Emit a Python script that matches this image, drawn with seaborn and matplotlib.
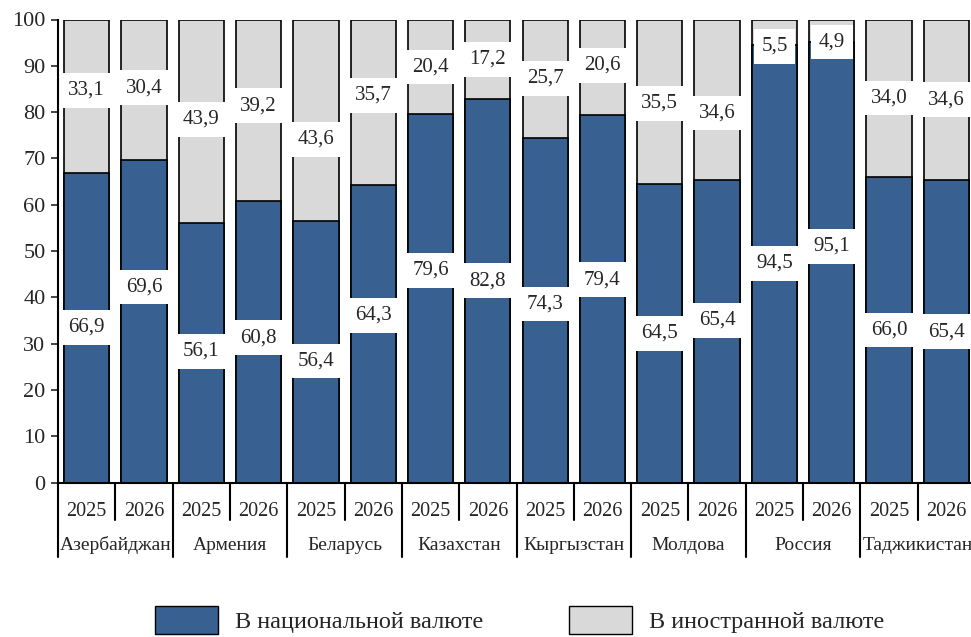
import matplotlib
matplotlib.use("Agg")
import numpy as np
import pandas as pd
import seaborn as sns
from matplotlib import pyplot as plt
from matplotlib.patches import Patch
from matplotlib.transforms import blended_transform_factory

# data
countries = ["Азербайджан", "Армения", "Беларусь", "Казахстан",
             "Кыргызстан", "Молдова", "Россия", "Таджикистан"]
years = ["2025", "2026"]
national = [66.9, 69.6, 56.1, 60.8, 56.4, 64.3, 79.6, 82.8,
            74.3, 79.4, 64.5, 65.4, 94.5, 95.1, 66.0, 65.4]
foreign = [33.1, 30.4, 43.9, 39.2, 43.6, 35.7, 20.4, 17.2,
           25.7, 20.6, 35.5, 34.6, 5.5, 4.9, 34.0, 34.6]
series_names = ["В национальной валюте", "В иностранной валюте"]

# where the value boxes sit (layout)
nat_label_y = [33.5, 42.2, 28.3, 31.3, 26.3, 36.1, 45.8, 43.6,
               38.6, 43.8, 32.2, 35.0, 47.3, 51.0, 33.0, 32.6]
for_label_y = [84.7, 85.3, 78.4, 81.4, 74.1, 83.6, 89.8, 91.4,
               87.3, 90.1, 81.9, 79.8, 94.2, 95.2, 83.0, 82.7]

BLUE = "#386192"
GRAY = "#D9D9D9"

sns.set_style("white")
plt.rcParams["font.family"] = ["Liberation Serif", "DejaVu Serif"]

df = pd.DataFrame({
    "key": [f"{c}|{y}" for c in countries for y in years],
    "national": national,
    "foreign": foreign,
})
df["total"] = df["national"] + df["foreign"]

fig = plt.figure(figsize=(9.71, 6.37), dpi=100)
ax = fig.add_axes([58 / 971, 154.5 / 637, 917 / 971, 463 / 637])

sns.barplot(data=df, x="key", y="total", color=GRAY, edgecolor="black",
            linewidth=1.2, width=0.79, saturation=1, ax=ax)
sns.barplot(data=df, x="key", y="national", color=BLUE, edgecolor="black",
            linewidth=1.2, width=0.79, saturation=1, ax=ax)

n = len(df)
ax.set_xlim(-0.5, n - 0.5)
ax.set_ylim(0, 100)
ax.set_yticks(np.arange(0, 101, 10))
ax.tick_params(axis="y", labelsize=16, length=5, width=1.2, direction="out",
               left=True, pad=4)
ax.set_xticks(range(n))
ax.set_xticklabels([y for c in countries for y in years], fontsize=14.5)
ax.tick_params(axis="x", length=0, pad=14)
ax.set_xlabel("")
ax.set_ylabel("")
sns.despine(ax=ax, top=True, right=True)
for s in ("left", "bottom"):
    ax.spines[s].set_linewidth(1.5)
    ax.spines[s].set_color("black")

box = dict(facecolor="white", edgecolor="none", pad=5.5)
for i in range(n):
    ax.text(i, nat_label_y[i], f"{national[i]:.1f}".replace(".", ","),
            ha="center", va="center", fontsize=15, bbox=box, zorder=5)
    ax.text(i, for_label_y[i], f"{foreign[i]:.1f}".replace(".", ","),
            ha="center", va="center", fontsize=15, bbox=box, zorder=5)

# category separators under the axis
trans = blended_transform_factory(ax.transData, ax.transAxes)
for k in range(n + 1):
    bottom = -0.16 if k % 2 == 0 else -0.08
    ax.plot([k - 0.5, k - 0.5], [0, bottom], color="black", lw=1.5,
            transform=trans, clip_on=False)
for j, c in enumerate(countries):
    ax.text(2 * j + 0.5, -0.135, c, ha="center", va="center", fontsize=14,
            transform=trans)

handles = [Patch(facecolor=BLUE, edgecolor="black", label=series_names[0]),
           Patch(facecolor=GRAY, edgecolor="black", label=series_names[1])]
fig.legend(handles=handles, loc="lower center", bbox_to_anchor=(0.535, -0.03),
           ncol=2, frameon=False, fontsize=17.5, handlelength=2.6,
           handleheight=1.4, handletextpad=0.7, columnspacing=3.5)

fig.savefig("out.png", dpi=100)
